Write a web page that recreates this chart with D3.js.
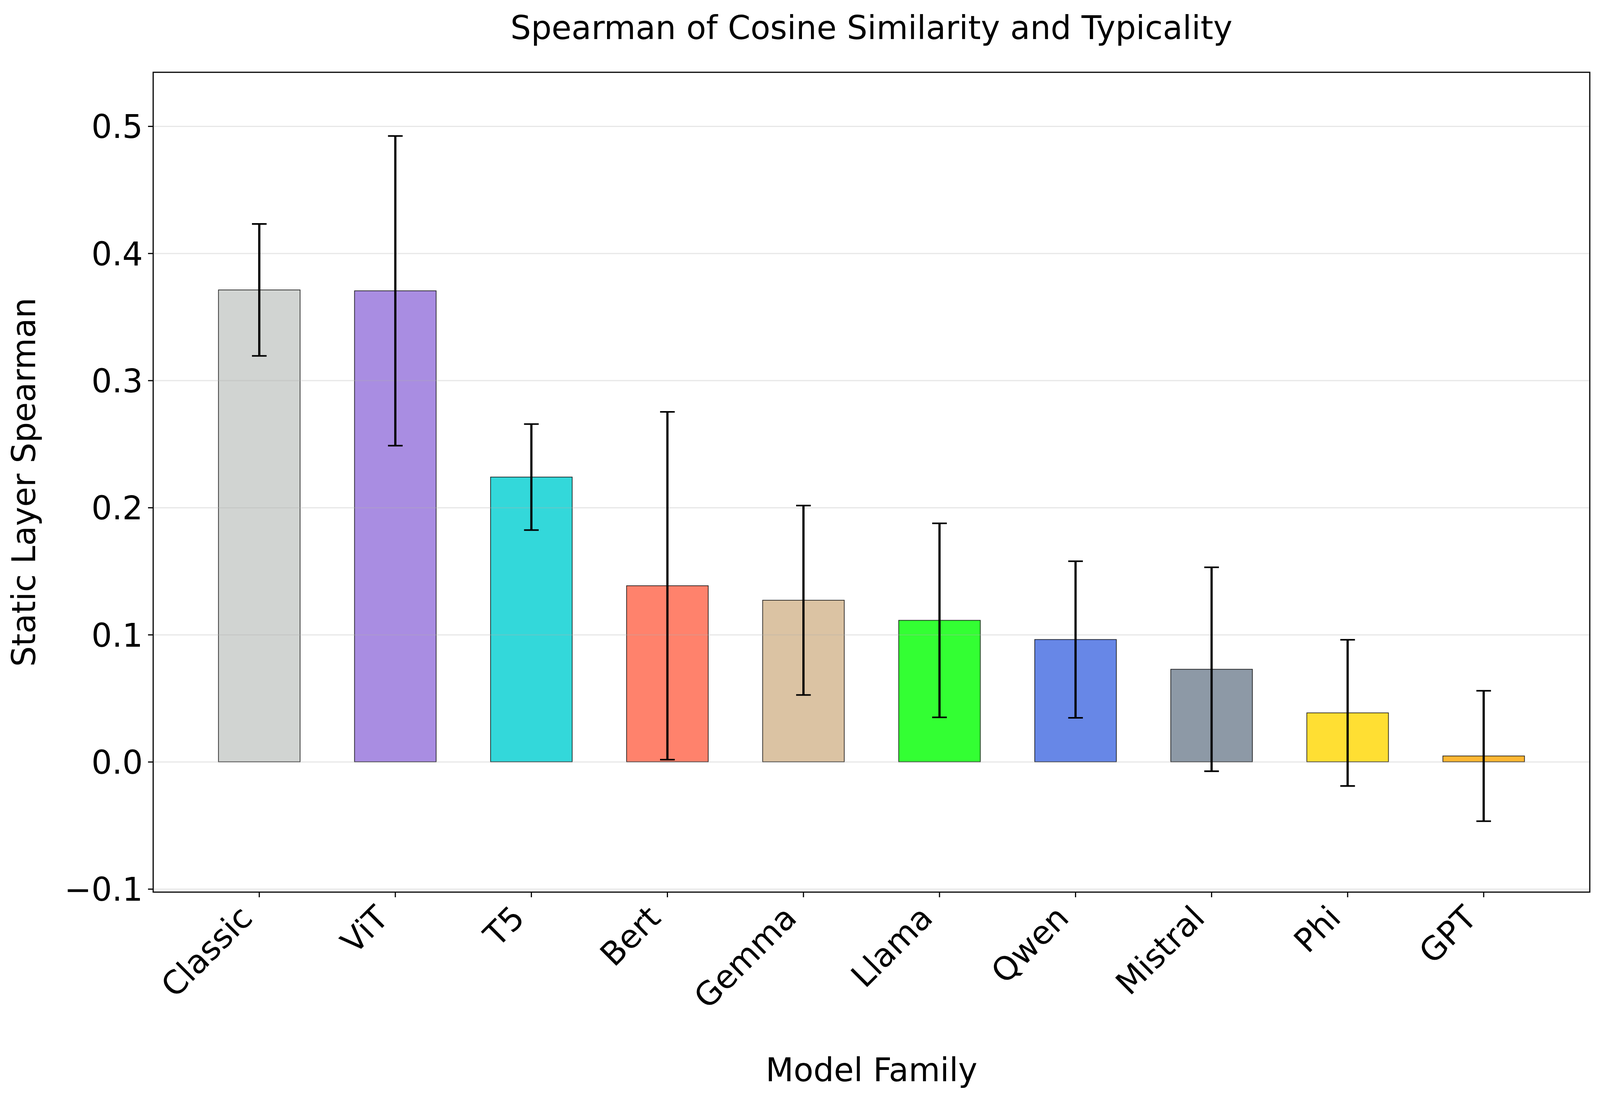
<!DOCTYPE html>
<html>
<head>
<meta charset="utf-8">
<script src="https://cdn.jsdelivr.net/npm/d3@7"></script>
<style>
  html, body { margin: 0; padding: 0; background: #ffffff; overflow: hidden; }
  svg { display: block; font-family: "DejaVu Sans", sans-serif; }
</style>
</head>
<body>
<div id="my_dataviz"></div>
<script>
// chart data
var families = ["Classic", "ViT", "T5", "Bert", "Gemma", "Llama", "Qwen", "Mistral", "Phi", "GPT"];
var means = [0.3712, 0.3705, 0.2240, 0.1385, 0.1271, 0.1113, 0.0962, 0.0728, 0.0385, 0.0046];
var errors = [0.0519, 0.1218, 0.0417, 0.1368, 0.0745, 0.0763, 0.0616, 0.0802, 0.0575, 0.0513];
var colors = ["#c6c9c7", "mediumpurple", "darkturquoise", "tomato", "tan", "lime", "royalblue", "slategray", "gold", "orange"];
var yTicks = [-0.1, 0.0, 0.1, 0.2, 0.3, 0.4, 0.5];

// the figure is laid out on a 4544 x 2815 grid, then fitted to the window
var W = window.innerWidth, H = window.innerHeight;
var sx = W / 4544, sy = H / 2815;

// set the dimensions and margins of the graph
var margin = {
        top: 185 * sy,
        right: 29 * sx,
        bottom: 532 * sy,
        left: 435 * sx
    },
    width = W - margin.left - margin.right,
    height = H - margin.top - margin.bottom;

var fontSize = 92 * sx;
var tickLen = 14.6 * sx;
var tickPad = 14.6 * sx;
var thin = 3.3 * sx;

var svgRoot = d3.select("#my_dataviz")
    .append("svg")
    .attr("width", W)
    .attr("height", H);

var svg = svgRoot.append("g")
    .attr("transform", "translate(" + margin.left + "," + margin.top + ")");

// scales
var x = d3.scaleBand()
    .domain(families)
    .range([0, width])
    .paddingInner(0.4)
    .paddingOuter(0.48);

var y = d3.scaleLinear()
    .domain([-0.1025, 0.5424])
    .range([height, 0]);

var rows = families.map(function(f, i) {
    return { name: f, mean: means[i], err: errors[i], color: colors[i] };
});

// bars
svg.selectAll("rect.bar")
    .data(rows)
    .enter()
    .append("rect")
    .attr("class", "bar")
    .attr("x", function(d) { return x(d.name); })
    .attr("y", function(d) { return y(Math.max(0, d.mean)); })
    .attr("width", x.bandwidth())
    .attr("height", function(d) { return Math.abs(y(d.mean) - y(0)); })
    .attr("fill", function(d) { return d.color; })
    .attr("fill-opacity", 0.8)
    .attr("stroke", "#000")
    .attr("stroke-opacity", 0.8)
    .attr("stroke-width", 2.1 * sx);

// horizontal grid (drawn over the bars like matplotlib does)
svg.append("g")
    .attr("class", "grid")
    .call(d3.axisLeft(y).tickValues(yTicks).tickSize(-width).tickFormat(""))
    .call(function(g) {
        g.select(".domain").remove();
        g.selectAll("line")
            .attr("stroke", "#b0b0b0")
            .attr("stroke-opacity", 0.3)
            .attr("stroke-width", thin);
    });

// error bars
var capHalf = 20.8 * sx;
var eb = svg.selectAll("g.err")
    .data(rows)
    .enter()
    .append("g")
    .attr("class", "err")
    .attr("transform", function(d) {
        return "translate(" + (x(d.name) + x.bandwidth() / 2) + ",0)";
    });

eb.append("line")
    .attr("x1", 0).attr("x2", 0)
    .attr("y1", function(d) { return y(d.mean - d.err); })
    .attr("y2", function(d) { return y(d.mean + d.err); })
    .attr("stroke", "#000")
    .attr("stroke-width", 6.25 * sx);

eb.selectAll("line.cap")
    .data(function(d) { return [d.mean - d.err, d.mean + d.err]; })
    .enter()
    .append("line")
    .attr("class", "cap")
    .attr("x1", -capHalf).attr("x2", capHalf)
    .attr("y1", function(v) { return y(v); })
    .attr("y2", function(v) { return y(v); })
    .attr("stroke", "#000")
    .attr("stroke-width", 4.5 * sx);

// y axis
var yAxis = svg.append("g")
    .call(d3.axisLeft(y).tickValues(yTicks).tickSize(tickLen).tickPadding(tickPad).tickFormat(d3.format(".1f")));
yAxis.select(".domain").remove();
yAxis.selectAll("line").attr("stroke", "#000").attr("stroke-width", thin);
yAxis.selectAll("text")
    .attr("font-size", fontSize)
    .attr("font-family", "DejaVu Sans")
    .attr("fill", "#000")
    .attr("dy", "0.36em");

// x axis, labels rotated 45 degrees and right aligned
var xAxis = svg.append("g")
    .attr("transform", "translate(0," + height + ")")
    .call(d3.axisBottom(x).tickSize(tickLen).tickFormat(""));
xAxis.select(".domain").remove();
xAxis.selectAll("line").attr("stroke", "#000").attr("stroke-width", thin);

var asc = 0.76 * fontSize, desc = 0.223 * fontSize;
var labelTop = height + tickLen + tickPad;
svg.append("g")
    .selectAll("text")
    .data(families)
    .enter()
    .append("text")
    .attr("transform", function(d) {
        var ax = x(d) + x.bandwidth() / 2 - desc / Math.SQRT2;
        var ay = labelTop + asc / Math.SQRT2;
        return "translate(" + ax + "," + ay + ") rotate(-45)";
    })
    .attr("text-anchor", "end")
    .attr("font-size", fontSize)
    .attr("fill", "#000")
    .text(function(d) { return d; });

// frame
svg.append("rect")
    .attr("x", 0)
    .attr("y", 0)
    .attr("width", width)
    .attr("height", height)
    .attr("fill", "none")
    .attr("stroke", "#000")
    .attr("stroke-width", thin);

// title and axis labels
svgRoot.append("text")
    .attr("x", margin.left + width / 2)
    .attr("y", 100 * sy)
    .attr("text-anchor", "middle")
    .attr("font-size", fontSize)
    .attr("fill", "#000")
    .text("Spearman of Cosine Similarity and Typicality");

svgRoot.append("text")
    .attr("x", margin.left + width / 2)
    .attr("y", 2767 * sy)
    .attr("text-anchor", "middle")
    .attr("font-size", fontSize)
    .attr("fill", "#000")
    .text("Model Family");

svgRoot.append("text")
    .attr("transform", "translate(" + (100 * sx) + "," + (margin.top + height / 2) + ") rotate(-90)")
    .attr("text-anchor", "middle")
    .attr("font-size", fontSize)
    .attr("fill", "#000")
    .text("Static Layer Spearman");
</script>
</body>
</html>
